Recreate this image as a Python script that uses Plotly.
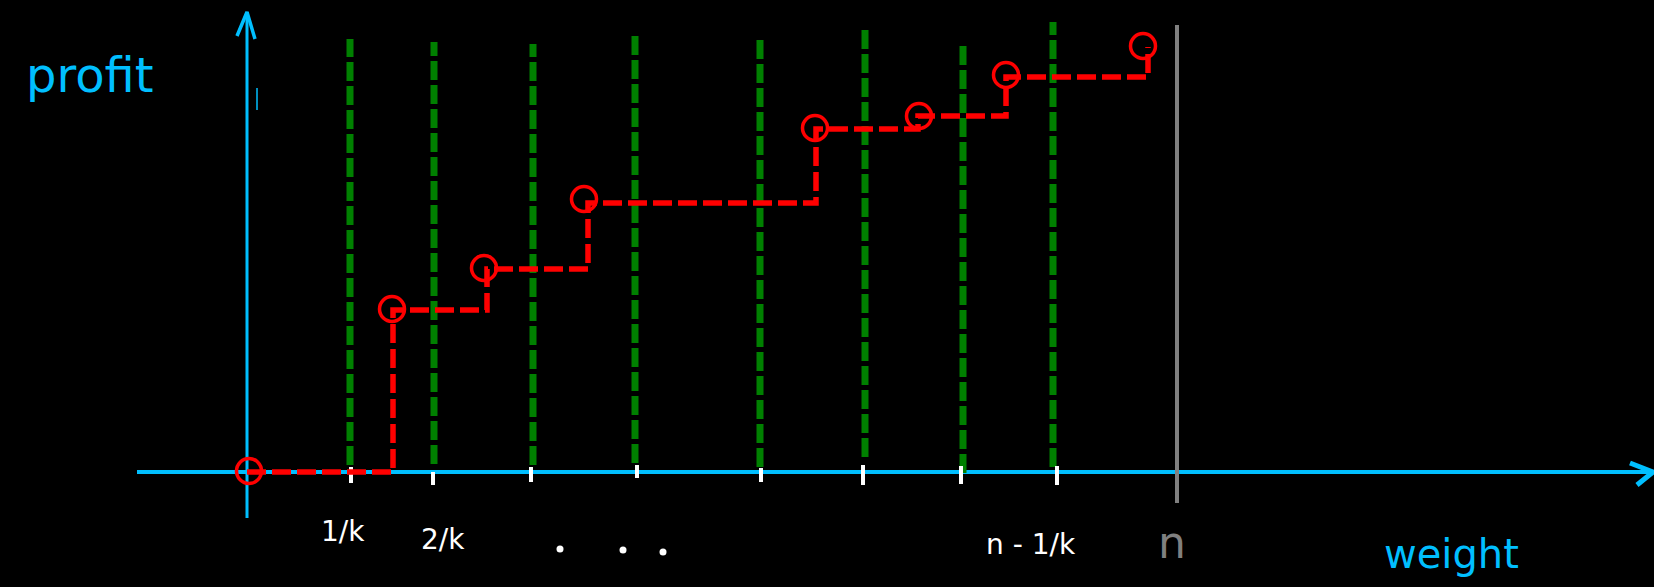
import plotly.graph_objects as go

# ---- data (weight, profit) ----
step_weight = [0, 146, 240, 341, 569, 671, 759, 901]
step_profit = [0, 162, 203, 269, 343, 356, 395, 425]
circle_weight = [2, 145, 237, 337, 568, 672, 759, 896]
circle_profit = [1, 163, 204, 273, 344, 356, 397, 426]

green_weight = [103, 187, 286, 388, 513, 618, 716, 806]
green_top = [433, 430, 428, 437, 434, 443, 427, 450]
green_bottom = [7, 8, 7, 9, 5, 15, -1, 5]

tick_weight = [104, 186, 284, 390, 514, 616, 714, 810]
tick_top = [5, 0, 5, 7, 4, 7, 6, 6]
tick_bottom = [-11, -13, -10, -6, -10, -13, -12, -13]

capacity_weight = 930
capacity_range = [447, -31]

tick_labels = ["1/k", "2/k", "n - 1/k"]
tick_label_weight = [96, 196, 784]
tick_label_profit = [-59, -67, -72]

dots_weight = [313, 376, 416]
dots_profit = [-77, -78, -80]

BLUE = "#00bfff"
RED = "#ff0000"
GREEN = "#008000"
GRAY = "#808080"

fig = go.Figure()

# axes (drawn as lines)
fig.add_trace(go.Scatter(x=[-110, 1405], y=[0, 0], mode="lines",
                         line=dict(color=BLUE, width=4), hoverinfo="skip"))
fig.add_trace(go.Scatter(x=[1383, 1406, 1390], y=[9, 0, -13], mode="lines",
                         line=dict(color=BLUE, width=5), hoverinfo="skip"))
fig.add_trace(go.Scatter(x=[0, 0], y=[-46, 460], mode="lines",
                         line=dict(color=BLUE, width=3), hoverinfo="skip"))
fig.add_trace(go.Scatter(x=[-10, 0, 8], y=[436, 460, 433], mode="lines",
                         line=dict(color=BLUE, width=3.5), hoverinfo="skip"))
fig.add_trace(go.Scatter(x=[10, 10], y=[384, 362], mode="lines",
                         line=dict(color=BLUE, width=1.5), hoverinfo="skip"))

# green dashed verticals
gx, gy = [], []
for w, t, b in zip(green_weight, green_top, green_bottom):
    gx += [w, w, None]
    gy += [b, t, None]
fig.add_trace(go.Scatter(x=gx, y=gy, mode="lines",
                         line=dict(color=GREEN, width=7, dash="19px,5px"),
                         hoverinfo="skip"))

# white ticks
tx, ty = [], []
for w, t, b in zip(tick_weight, tick_top, tick_bottom):
    tx += [w, w, None]
    ty += [t, b, None]
fig.add_trace(go.Scatter(x=tx, y=ty, mode="lines",
                         line=dict(color="white", width=4), hoverinfo="skip"))

# capacity line
fig.add_trace(go.Scatter(x=[capacity_weight, capacity_weight], y=capacity_range,
                         mode="lines", line=dict(color=GRAY, width=4),
                         hoverinfo="skip"))

# red step function
fig.add_trace(go.Scatter(x=step_weight, y=step_profit, mode="lines",
                         line=dict(color=RED, width=5.5, dash="19px,6px", shape="hv"),
                         hoverinfo="skip"))
fig.add_trace(go.Scatter(x=circle_weight, y=circle_profit, mode="markers",
                         marker=dict(symbol="circle-open", size=25,
                                     color=RED, line=dict(color=RED, width=3.5)),
                         hoverinfo="skip"))

# dots
fig.add_trace(go.Scatter(x=dots_weight, y=dots_profit, mode="markers",
                         marker=dict(color="white", size=7), hoverinfo="skip"))

FONT = "DejaVu Sans"
for txt, w, p in zip(tick_labels, tick_label_weight, tick_label_profit):
    fig.add_annotation(x=w, y=p, text=txt, showarrow=False,
                       font=dict(color="white", size=28, family=FONT))
fig.add_annotation(x=925, y=-70, text="n", showarrow=False,
                   font=dict(color=GRAY, size=44, family=FONT))
fig.add_annotation(x=1204, y=-82, text="weight", showarrow=False,
                   font=dict(color=BLUE, size=40, family=FONT))
fig.add_annotation(x=-157, y=397, text="profit", showarrow=False,
                   font=dict(color=BLUE, size=48, family=FONT))

fig.update_layout(
    width=1654, height=587, autosize=False,
    margin=dict(l=0, r=0, t=0, b=0),
    paper_bgcolor="black", plot_bgcolor="black",
    showlegend=False,
    xaxis=dict(range=[-247, 1407], visible=False, fixedrange=True),
    yaxis=dict(range=[-115, 472], visible=False, fixedrange=True),
)

fig.write_html("out.html", config={"displayModeBar": False},
               post_script="document.body.style.margin='0';document.body.style.overflow='hidden';")
